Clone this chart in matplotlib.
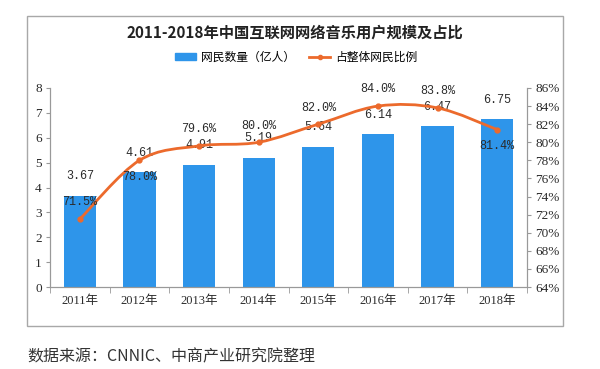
import numpy as np
import matplotlib
matplotlib.use("Agg")
import matplotlib.pyplot as plt
from matplotlib.path import Path
from matplotlib.patches import PathPatch, Rectangle
from matplotlib.lines import Line2D

plt.rcParams['font.family'] = ['Liberation Serif', 'Noto Sans CJK SC']

# ===== data =====
years = ["2011年", "2012年", "2013年", "2014年", "2015年", "2016年", "2017年", "2018年"]
users = [3.67, 4.61, 4.91, 5.19, 5.64, 6.14, 6.47, 6.75]
share = [71.5, 78.0, 79.6, 80.0, 82.0, 84.0, 83.8, 81.4]
# label of the percentage below the point?
share_below = [False, True, False, False, False, False, False, True]

BAR_C = "#2E95EA"
LINE_C = "#EC6A2C"
TXT_C = "#2b2b2b"

fig = plt.figure(figsize=(6, 3.69), dpi=100)

# outer grey frame
fig.patches.append(Rectangle((27 / 600, 1 - 326 / 369), (563 - 27) / 600, (326 - 16) / 369,
                             transform=fig.transFigure, fill=False,
                             edgecolor="#a8a8a8", lw=1.0))

ax = fig.add_axes([50 / 600, 1 - 287 / 369, 477 / 600, 199 / 369])
ax2 = ax.twinx()

x = np.arange(len(years))
ax.bar(x, users, width=0.54, color=BAR_C, zorder=2)
ax.set_xlim(-0.5, len(years) - 0.5)
ax.set_ylim(0, 8)
ax.set_yticks(range(0, 9))
ax.set_xticks(x)
ax.set_xticklabels(years)
ax.set_xticks(np.arange(-0.5, len(years)), minor=True)
ax.tick_params(axis="x", which="major", length=0, pad=6, labelsize=9, colors=TXT_C)
ax.tick_params(axis="x", which="minor", length=4, color="#999999")
ax.tick_params(axis="y", length=3, color="#999999", labelsize=9.5, labelcolor=TXT_C, pad=3)

for v, xi in zip(users, x):
    ax.annotate(f"{v:.2f}", (xi, v), xytext=(0, 14), textcoords="offset points",
                ha="center", va="center", fontsize=8.5, family="Liberation Mono",
                color=TXT_C, zorder=5)

# smooth line (Catmull-Rom as cubic bezier)
pts = np.column_stack([x, share]).astype(float)
ext = np.vstack([pts[0], pts, pts[-1]])
verts = [tuple(pts[0])]
codes = [Path.MOVETO]
for i in range(len(pts) - 1):
    p0, p1, p2, p3 = ext[i], ext[i + 1], ext[i + 2], ext[i + 3]
    c1 = p1 + (p2 - p0) / 6
    c2 = p2 - (p3 - p1) / 6
    verts += [tuple(c1), tuple(c2), tuple(p2)]
    codes += [Path.CURVE4] * 3
ax2.add_patch(PathPatch(Path(verts, codes), fill=False, edgecolor=LINE_C, lw=2, zorder=3))
ax2.plot(x, share, ls="none", marker="o", ms=3.5, color=LINE_C, zorder=4)

ax2.set_ylim(64, 86)
ax2.set_yticks(range(64, 87, 2))
ax2.set_yticklabels([f"{t}%" for t in range(64, 87, 2)])
ax2.tick_params(axis="y", length=3, color="#999999", labelsize=9.5, labelcolor=TXT_C, pad=3)

for v, xi, below in zip(share, x, share_below):
    ax2.annotate(f"{v:.1f}%", (xi, v), xytext=(0, -12 if below else 12),
                 textcoords="offset points", ha="center", va="center",
                 fontsize=8.5, family="Liberation Mono", color=TXT_C, zorder=5)

for a in (ax, ax2):
    a.spines["top"].set_visible(False)
    for s in ("left", "right", "bottom"):
        a.spines[s].set_color("#999999")
        a.spines[s].set_linewidth(0.8)

# title and legend
fig.text(295 / 600, 1 - 33 / 369, "2011-2018年中国互联网网络音乐用户规模及占比",
         ha="center", va="center", fontsize=11, fontweight="bold",
         family=["Noto Sans CJK SC"], color="#222222")

handles = [Rectangle((0, 0), 1, 1, color=BAR_C),
           Line2D([0], [0], color=LINE_C, lw=2, marker="o", ms=3)]
fig.legend(handles, ["网民数量（亿人）", "占整体网民比例"], loc="center",
           bbox_to_anchor=(296 / 600, 1 - 57 / 369), ncol=2, frameon=False,
           prop={"family": ["Noto Sans CJK SC"], "size": 8.5},
           handlelength=1.8, handleheight=0.6, columnspacing=1.2, handletextpad=0.4)

fig.text(27 / 600, 1 - 357 / 369, "数据来源：CNNIC、中商产业研究院整理",
         ha="left", va="center", fontsize=11.5, family=["Noto Sans CJK SC"], color="#333333")

fig.savefig("out.png", dpi=100)
